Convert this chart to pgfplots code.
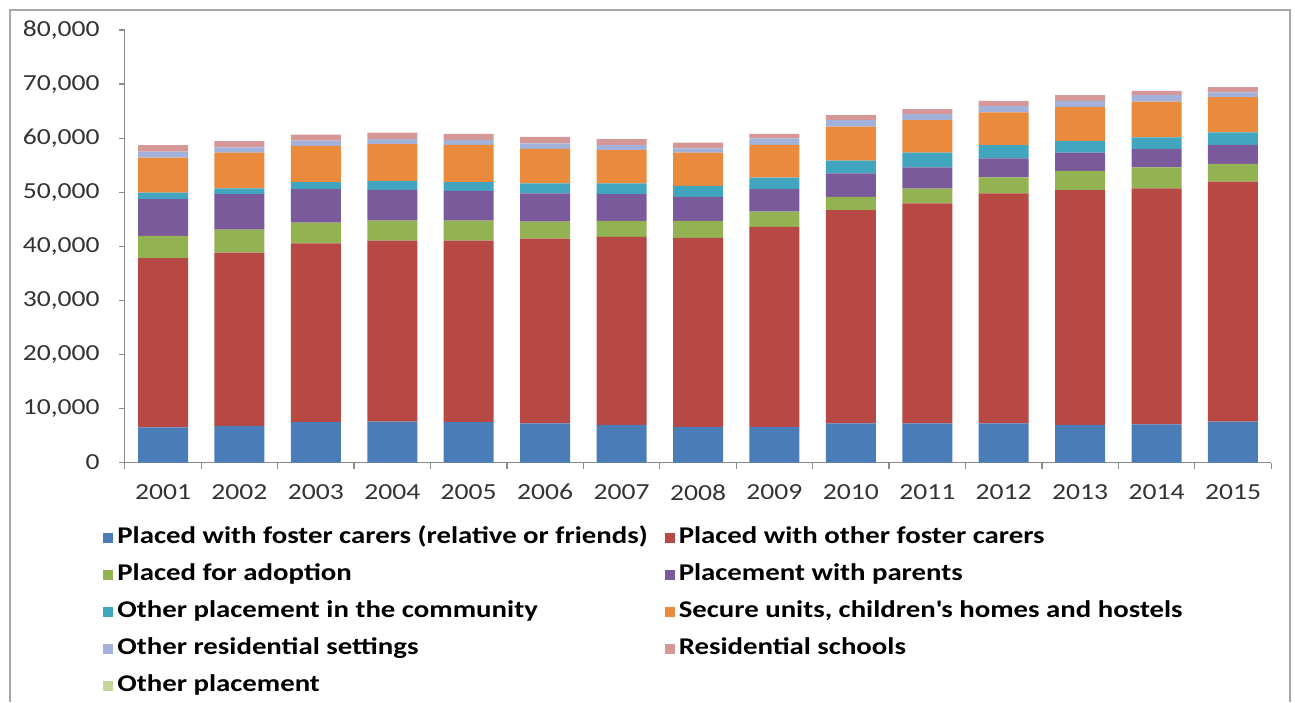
\documentclass[border=0pt]{standalone}
\usepackage{fontspec}
\setmainfont{Carlito}[FakeStretch=1.2]
\usepackage{pgfplots}
\usepackage{pgfplotstable}
\pgfplotsset{compat=1.18}
\definecolor{c1}{HTML}{4A7DB8}
\definecolor{c2}{HTML}{B84844}
\definecolor{c3}{HTML}{93B251}
\definecolor{c4}{HTML}{7A5A9A}
\definecolor{c5}{HTML}{41A5BF}
\definecolor{c6}{HTML}{E98A3D}
\definecolor{c7}{HTML}{A2B2DA}
\definecolor{c8}{HTML}{D59896}
\definecolor{c9}{HTML}{C3D69B}
\definecolor{tickc}{HTML}{333333}
\pgfplotstableread{
x a b c d e f g h i
0 6500 31300 4100 6800 1200 6500 1100 1200 0
1 6800 32000 4300 6550 1050 6600 1000 1150 0
2 7450 33100 3800 6200 1300 6700 1000 1100 0
3 7550 33500 3700 5700 1650 6800 900 1200 0
4 7450 33600 3700 5500 1600 6900 950 1100 0
5 7250 34150 3150 5250 1850 6350 1050 1200 0
6 6950 34800 2950 4950 2000 6150 900 1100 0
7 6600 34950 3150 4450 2000 6150 800 1050 0
8 6600 37000 2800 4150 2150 6050 1200 850 0
9 7250 39450 2450 4350 2350 6300 1200 900 0
10 7250 40700 2700 3950 2700 6050 1100 900 0
11 7250 42550 2950 3500 2450 6050 1150 1000 0
12 6950 43450 3550 3350 2200 6300 1100 1050 0
13 7050 43650 3900 3350 2200 6600 1200 800 0
14 7550 44400 3300 3500 2300 6550 850 1000 0
}\data
\begin{document}
\begin{tikzpicture}[x=1pt,y=1pt]
\path (0,0) rectangle (647.5,-351);
\draw[black!35, line width=0.6pt] (5,-351) -- (5,-5) -- (645,-5) -- (645,-351);
\begin{axis}[
  at={(62.4pt,-231.25pt)}, anchor=south west,
  scale only axis, width=573.2pt, height=216.25pt,
  ybar stacked, bar width=25pt,
  xmin=-0.5, xmax=14.5, ymin=0, ymax=80000,
  scaled y ticks=false,
  axis x line*=bottom, axis y line*=left,
  axis line style={black!45, line width=0.6pt},
  tick align=outside, major tick length=3pt, minor tick length=3pt,
  ytick={0,10000,20000,30000,40000,50000,60000,70000,80000},
  yticklabels={0,{10,000},{20,000},{30,000},{40,000},{50,000},{60,000},{70,000},{80,000}},
  xtick={0,...,14},
  xticklabels={2001,2002,2003,2004,2005,2006,2007,2008,2009,2010,2011,2012,2013,2014,2015},
  minor xtick={-0.5,0.5,...,14.5},
  major x tick style={draw=none},
  minor x tick style={draw=black!45, line width=0.6pt},
  major y tick style={draw=black!45, line width=0.6pt},
  tick label style={font=\fontsize{11.5}{13}\selectfont, text=tickc, inner sep=0pt},
  yticklabel style={xshift=-9.4pt},
  xticklabel style={yshift=-7.75pt},
  legend columns=2,
  legend cell align=left,
  legend image code/.code={\fill[#1] (0pt,-2.5pt) rectangle (5pt,2.5pt);},
  legend style={at={(-0.019,-0.1503)}, anchor=north west, draw=none, fill=none, inner sep=0pt,
    font=\bfseries\fontsize{12}{13}\selectfont,
    nodes={inner sep=0pt, text height=8pt, text depth=2.5pt},
    row sep=8pt,
    /tikz/every odd column/.append style={column sep=2pt},
    /tikz/every even column/.append style={column sep=8.5pt}},
]
\addplot[fill=c1, draw=none] table[x=x,y=a] {\data};
\addplot[fill=c2, draw=none] table[x=x,y=b] {\data};
\addplot[fill=c3, draw=none] table[x=x,y=c] {\data};
\addplot[fill=c4, draw=none] table[x=x,y=d] {\data};
\addplot[fill=c5, draw=none] table[x=x,y=e] {\data};
\addplot[fill=c6, draw=none] table[x=x,y=f] {\data};
\addplot[fill=c7, draw=none] table[x=x,y=g] {\data};
\addplot[fill=c8, draw=none] table[x=x,y=h] {\data};
\addplot[fill=c9, draw=none] table[x=x,y=i] {\data};
\legend{Placed with foster carers (relative or friends),Placed with other foster carers,Placed for adoption,Placement with parents,Other placement in the community,{Secure units, children\textquotesingle s homes and hostels},Other residential settings,Residential schools,Other placement}
\end{axis}
\end{tikzpicture}
\end{document}
